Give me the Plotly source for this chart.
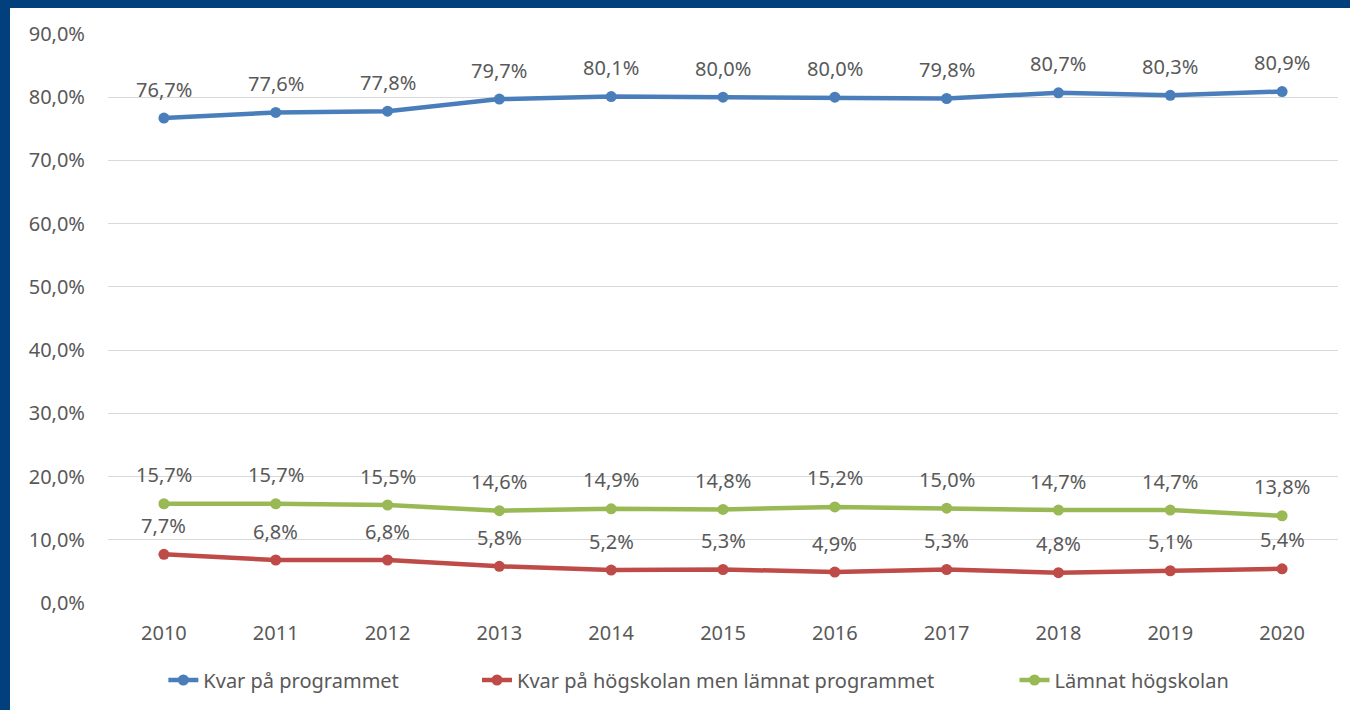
import plotly.graph_objects as go

years = ["2010", "2011", "2012", "2013", "2014", "2015", "2016", "2017", "2018", "2019", "2020"]
kvar_programmet = [76.7, 77.6, 77.8, 79.7, 80.1, 80.0, 80.0, 79.8, 80.7, 80.3, 80.9]
kvar_hogskolan = [7.7, 6.8, 6.8, 5.8, 5.2, 5.3, 4.9, 5.3, 4.8, 5.1, 5.4]
lamnat_hogskolan = [15.7, 15.7, 15.5, 14.6, 14.9, 14.8, 15.2, 15.0, 14.7, 14.7, 13.8]

series = [
    ("Kvar på programmet", kvar_programmet, "#4a7ebb", "legend", 0.045),
    ("Kvar på högskolan men lämnat programmet", kvar_hogskolan, "#be4b48", "legend2", 0.300),
    ("Lämnat högskolan", lamnat_hogskolan, "#98b954", "legend3", 0.737),
]

FONT = "Noto Sans"
GRAY = "#595959"
FS = 20

L, R, T, B = 108, 12, 34, 106
W, H = 1350, 710
PW, PH = W - L - R, H - T - B

fig = go.Figure()
annotations = []
legends = {}
for name, vals, col, lg, lx in series:
    fig.add_trace(go.Scatter(
        x=years, y=vals, name=name, mode="lines+markers",
        line=dict(color=col, width=4.5),
        marker=dict(color=col, size=11),
        legend=lg,
    ))
    legends[lg] = dict(orientation="h", x=lx, xanchor="left", y=(T + PH - 680) / PH,
                       yanchor="middle", font=dict(family=FONT, size=FS, color=GRAY),
                       bgcolor="rgba(0,0,0,0)")
    for i, v in enumerate(vals):
        annotations.append(dict(
            x=i, y=v, xref="x", yref="y", text=f"{v:.1f}%".replace(".", ","),
            showarrow=False, yshift=29, yanchor="middle",
            font=dict(family=FONT, size=FS, color=GRAY),
        ))

fig.update_layout(
    width=W, height=H,
    paper_bgcolor="#013f7d",
    plot_bgcolor="white",
    margin=dict(l=L, r=R, t=T, b=B),
    showlegend=True,
    annotations=annotations,
    shapes=[dict(type="rect", xref="paper", yref="paper", layer="below",
                 x0=(10 - L) / PW, x1=(W + 20 - L) / PW, y0=-0.3, y1=1 + (T - 8) / PH,
                 fillcolor="white", line=dict(width=0))],
    font=dict(family=FONT, color=GRAY),
    **legends,
)
fig.update_xaxes(
    type="category", range=[-0.5, 10.5], autorange=False,
    showgrid=False, showline=False, zeroline=False,
    ticks="outside", ticklen=12, tickcolor="rgba(0,0,0,0)",
    tickfont=dict(family=FONT, size=FS, color=GRAY),
)
fig.update_yaxes(
    range=[0, 90], autorange=False, showgrid=True, gridcolor="#d9d9d9", gridwidth=1,
    zeroline=False, showline=False,
    ticks="outside", ticklen=18, tickcolor="rgba(0,0,0,0)",
    tickvals=[0, 10, 20, 30, 40, 50, 60, 70, 80, 90],
    ticktext=[f"{v:.1f}%".replace(".", ",") for v in range(0, 100, 10)],
    tickfont=dict(family=FONT, size=FS, color=GRAY),
)
fig.write_html("out.html", config={"displayModeBar": False},
               post_script="document.body.style.margin='0';document.body.style.overflow='hidden';")
